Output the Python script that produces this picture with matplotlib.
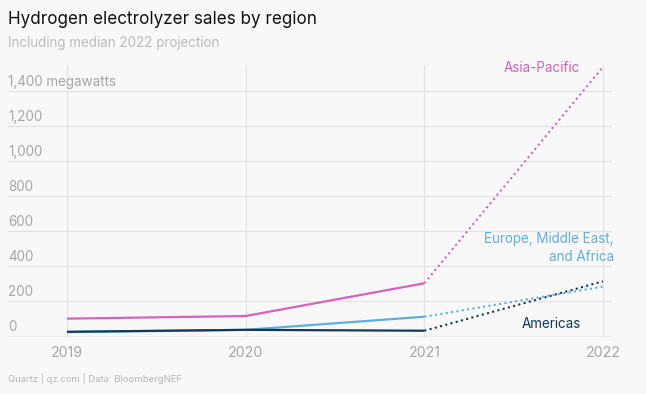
import matplotlib
matplotlib.use("Agg")
import matplotlib.pyplot as plt

years = [2019, 2020, 2021, 2022]
asia_pacific = [102, 117, 304, 1540]
emea = [25, 38, 113, 285]
americas = [27, 38, 33, 315]
ytick_vals = [0, 200, 400, 600, 800, 1000, 1200, 1400]
ytick_labels = ["0", "200", "400", "600", "800", "1,000", "1,200", "1,400 megawatts"]
xtick_labels = ["2019", "2020", "2021", "2022"]

BG = "#f8f8f8"
PINK = "#d462bf"
BLUE = "#5cb0e0"
NAVY = "#123a58"
GRID = "#e2e2e2"
TICK = "#a6a6a6"

plt.rcParams['font.family'] = ['Inter', 'DejaVu Sans']

W, H = 646, 394
fig = plt.figure(figsize=(W/100, H/100), dpi=100, facecolor=BG)
ax = fig.add_axes([8/W, 1-336.5/H, (612-8)/W, (336.5-65)/H])
ax.set_facecolor(BG)
ax.set_xlim(2019 - 59/178.67, 2022 + 9/178.67)
ax.set_ylim(0, 1551)

for s in ax.spines.values():
    s.set_visible(False)
ax.set_xticks([])
ax.set_yticks([])

for v in ytick_vals[1:]:
    ax.axhline(v, color=GRID, lw=0.8, zorder=0)
for yr in years:
    ax.axvline(yr, color=GRID, lw=0.8, zorder=0)
ax.axhline(0, color="#b0b0b0", lw=1.0, zorder=1)

series = [(asia_pacific, PINK), (emea, BLUE), (americas, NAVY)]
for vals, c in series:
    ax.plot(years[:3], vals[:3], color=c, lw=1.6, solid_capstyle='butt', zorder=3)
    ax.plot(years[2:], vals[2:], color=c, lw=1.5, ls=(0, (1, 1.6)), zorder=3)

# y tick labels above gridlines
for v, lab in zip(ytick_vals, ytick_labels):
    ax.text(8/W, 1-(336.5 - v*0.1751 - 9.5)/H, lab, transform=fig.transFigure,
            ha='left', va='center', fontsize=9.7, color=TICK)

for yr, lab in zip(years, xtick_labels):
    ax.text(yr, -0.06, lab, transform=ax.get_xaxis_transform(),
            ha='center', va='center', fontsize=10.2, color=TICK)

fig.text(8/W, 1-20/H, "Hydrogen electrolyzer sales by region", ha='left', va='center',
         fontsize=12.3, color="#111111")
fig.text(8/W, 1-43/H, "Including median 2022 projection", ha='left', va='center',
         fontsize=9.7, color="#bbbbbb")
fig.text(8/W, 1-378/H, "Quartz | qz.com | Data: BloombergNEF", ha='left', va='center',
         fontsize=6.8, color="#b5b5b5")

fig.text(580/W, 1-68/H, "Asia-Pacific", ha='right', va='center', fontsize=9.7, color=PINK)
fig.text(614/W, 1-248/H, "Europe, Middle East,\nand Africa", ha='right', va='center',
         fontsize=9.7, color=BLUE, linespacing=1.35)
fig.text(581/W, 1-324/H, "Americas", ha='right', va='center', fontsize=9.7, color=NAVY)

fig.savefig("out.png", dpi=100, facecolor=BG)
